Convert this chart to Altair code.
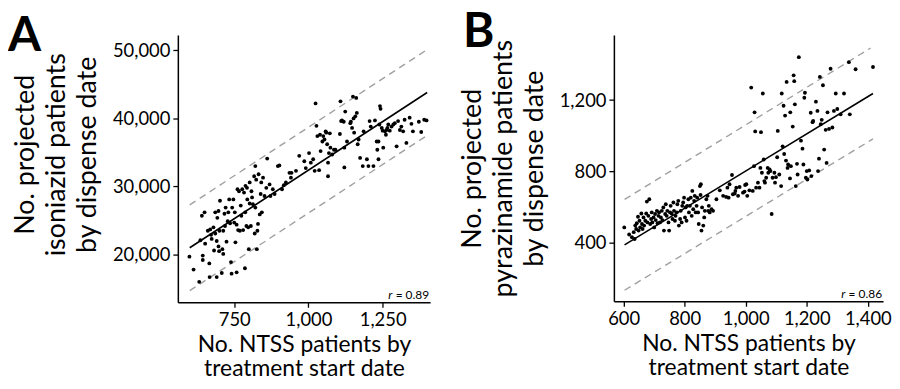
import altair as alt
import pandas as pd

# ---------------- Panel A: isoniazid ----------------
a_x = [599, 613, 632, 636, 641, 644, 644, 650, 652, 661, 666, 667, 669, 672, 674, 680, 682, 686, 686, 691,
       691, 693, 697, 697, 699, 700, 702, 708, 710, 713, 713, 717, 719, 721, 724, 728, 730, 733, 736, 739,
       741, 743, 747, 750, 752, 754, 758, 758, 761, 763, 766, 769, 772, 774, 777, 780, 783, 786, 787, 788,
       791, 793, 794, 797, 799, 802, 802, 806, 808, 810, 813, 817, 819, 821, 821, 824, 826, 828, 830, 832,
       836, 839, 841, 843, 847, 852, 858, 861, 869, 872, 880, 886, 897, 902, 911, 917, 924, 936, 941, 943,
       958, 969, 986, 991, 1002, 1008, 1016, 1021, 1024, 1027, 1030, 1036, 1039, 1041, 1047, 1050, 1054, 1058, 1060, 1063,
       1066, 1066, 1069, 1072, 1074, 1080, 1086, 1091, 1106, 1108, 1110, 1113, 1119, 1121, 1121, 1124, 1130, 1141, 1143, 1147,
       1150, 1152, 1154, 1158, 1161, 1163, 1166, 1169, 1174, 1183, 1186, 1197, 1202, 1206, 1210, 1219, 1224, 1230, 1232, 1236,
       1236, 1239, 1241, 1243, 1247, 1250, 1252, 1258, 1261, 1263, 1266, 1269, 1274, 1280, 1286, 1291, 1297, 1302, 1308, 1313,
       1319, 1324, 1330, 1341, 1347, 1352, 1372, 1390, 1380, 1398]
a_y = [19700, 17800, 16000, 22100, 25700, 19850, 19200, 26200, 21600, 23500, 18700, 16700, 23700, 22900, 22300, 24000, 20600, 23100, 26200, 16700,
       22000, 25400, 21200, 26400, 20500, 23500, 27900, 17300, 20800, 20100, 23500, 26000, 24200, 26900, 21900, 24900, 26200, 28100, 24600, 18900,
       17200, 26900, 28100, 24700, 26200, 21800, 17400, 24400, 29600, 23600, 29300, 23500, 27200, 25700, 29600, 23600, 29100, 18000, 26200, 30100,
       24200, 29800, 28100, 24000, 20800, 30600, 27500, 24200, 29300, 28400, 27400, 31500, 23100, 33000, 26900, 31000, 20800, 23500, 24500, 31800,
       25900, 28900, 30600, 26200, 31300, 28600, 29800, 34100, 30300, 28600, 29600, 28900, 33000, 33100, 29600, 30200, 30600, 32000, 31300, 32000,
       32300, 34500, 33700, 32700, 34900, 33500, 34000, 32300, 42200, 38900, 37400, 32400, 37600, 35200, 36600, 37400, 36900, 38100, 37900, 36200,
       33500, 31500, 34900, 37800, 35700, 34700, 35400, 35400, 37700, 42500, 39600, 39700, 39500, 32800, 35700, 41000, 36600, 39300, 39500, 38600,
       43200, 40000, 37900, 40300, 43000, 40800, 36200, 36900, 34200, 33000, 38100, 34000, 33000, 39600, 38800, 33000, 39700, 36600, 35400, 34000,
       36600, 39100, 41800, 41400, 38600, 38200, 35700, 38100, 37600, 38300, 38600, 39100, 38200, 38800, 39100, 39300, 35900, 39600, 38300, 38800,
       38100, 39800, 36400, 40100, 39200, 38100, 39500, 39800, 38000, 39700]
a_fit_x = [600, 1400]
a_fit_y = [21000, 43800]
a_upper_y = [27300, 50100]
a_lower_y = [14700, 37500]
a_r = "= 0.89"

# ---------------- Panel B: pyrazinamide ----------------
b_x = [602, 618, 627, 633, 636, 638, 641, 643, 647, 649, 652, 654, 658, 660, 662, 665, 667, 671, 674, 676,
       678, 681, 684, 687, 690, 692, 694, 698, 700, 703, 705, 709, 711, 714, 716, 719, 722, 725, 727, 730,
       732, 736, 738, 741, 743, 747, 749, 752, 754, 757, 760, 763, 765, 768, 770, 774, 776, 779, 781, 785,
       787, 790, 792, 795, 798, 801, 803, 806, 808, 812, 814, 817, 820, 823, 825, 828, 831, 833, 836, 839,
       841, 844, 846, 850, 852, 853, 855, 857, 861, 864, 866, 871, 875, 877, 879, 882, 888, 893, 904, 915,
       926, 936, 940, 944, 947, 955, 958, 964, 966, 969, 975, 980, 991, 996, 998, 1002, 1005, 1012, 1018, 1023,
       1027, 1029, 1031, 1034, 1040, 1045, 1048, 1050, 1053, 1056, 1059, 1061, 1063, 1067, 1072, 1074, 1078, 1081, 1085, 1088,
       1094, 1096, 1099, 1103, 1105, 1110, 1116, 1118, 1121, 1124, 1126, 1129, 1132, 1134, 1137, 1139, 1145, 1146, 1148, 1154,
       1157, 1159, 1161, 1164, 1168, 1170, 1174, 1181, 1186, 1189, 1192, 1194, 1197, 1200, 1202, 1208, 1213, 1215, 1219, 1221,
       1230, 1235, 1237, 1240, 1243, 1246, 1249, 1253, 1257, 1262, 1265, 1268, 1273, 1278, 1284, 1289, 1295, 1300, 1311, 1322,
       1338, 1341, 1360, 1417]
b_y = [485, 445, 430, 458, 420, 495, 476, 508, 545, 467, 522, 485, 563, 504, 476, 541, 495, 522, 563, 630,
       513, 550, 643, 504, 532, 569, 513, 541, 485, 560, 526, 578, 508, 550, 569, 513, 541, 578, 526, 597,
       467, 560, 615, 550, 578, 513, 467, 569, 606, 563, 532, 625, 578, 522, 550, 569, 615, 634, 495, 532,
       578, 513, 606, 625, 652, 541, 597, 522, 606, 643, 569, 606, 652, 550, 690, 587, 634, 662, 569, 606,
       652, 569, 504, 717, 667, 727, 467, 597, 495, 541, 578, 643, 662, 578, 606, 569, 587, 578, 643, 693,
       662, 656, 708, 652, 727, 779, 671, 675, 690, 708, 662, 712, 680, 686, 723, 727, 662, 693, 1270, 690,
       829, 1131, 1024, 708, 736, 708, 819, 1020, 792, 1237, 866, 745, 736, 764, 819, 792, 810, 801, 560, 764,
       792, 736, 767, 879, 1027, 782, 717, 1237, 940, 1168, 897, 1113, 860, 1302, 819, 838, 760, 1131, 829, 1051,
       1339, 1306, 1176, 717, 842, 782, 1441, 972, 927, 838, 1213, 1241, 764, 801, 754, 805, 1129, 773, 1076, 1083,
       1191, 1139, 801, 871, 1330, 1064, 1089, 1283, 922, 1033, 847, 1131, 1038, 1376, 1046, 1139, 1237, 1150, 1120, 1237,
       1413, 1120, 1373, 1386]
b_fit_x = [603, 1417]
b_fit_y = [387, 1237]
b_upper_x = [603, 1409]
b_upper_y = [642, 1492]
b_lower_x = [603, 1417]
b_lower_y = [132, 982]
b_r = "= 0.86"

X_TITLE = ["No. NTSS patients by", "treatment start date"]
FONT = "Lato"


def panel(px, py, fx, fy, ux, uy, lx, ly, xdom, ydom, xticks, yticks, ytitle, ytitle_y,
          letter, letter_x, letter_y, rtext, w, h):
    xs = alt.Scale(domain=xdom, nice=False, zero=False)
    ys = alt.Scale(domain=ydom, nice=False, zero=False)
    xax = alt.Axis(values=xticks, format=",.0f", title=X_TITLE)
    yax = alt.Axis(values=yticks, format=",.0f", title=ytitle, titleY=ytitle_y)

    pts = alt.Chart(pd.DataFrame({"x": px, "y": py})).mark_circle(
        size=15, color="black", opacity=1
    ).encode(x=alt.X("x:Q", scale=xs, axis=xax), y=alt.Y("y:Q", scale=ys, axis=yax))

    def line(lxv, lyv, color, dash, width):
        kw = dict(color=color, strokeWidth=width)
        if dash:
            kw["strokeDash"] = dash
        return alt.Chart(pd.DataFrame({"x": lxv, "y": lyv})).mark_line(**kw).encode(
            x=alt.X("x:Q", scale=xs), y=alt.Y("y:Q", scale=ys)
        )

    fit = line(fx, fy, "black", None, 1.6)
    up = line(ux, uy, "#a0a0a0", [7, 5], 1.4)
    lo = line(lx, ly, "#a0a0a0", [7, 5], 1.4)

    one = pd.DataFrame({"t": [letter]})
    let = alt.Chart(one).mark_text(
        align="left", baseline="alphabetic", fontSize=48, fontWeight="bold",
        font=FONT, color="black"
    ).encode(text="t:N", x=alt.value(letter_x), y=alt.value(letter_y))

    rv = alt.Chart(pd.DataFrame({"t": [rtext]})).mark_text(
        align="right", baseline="alphabetic", fontSize=12, font=FONT, color="black"
    ).encode(text="t:N", x=alt.value(w - 1), y=alt.value(h - 3))
    rr = alt.Chart(pd.DataFrame({"t": ["r"]})).mark_text(
        align="right", baseline="alphabetic", fontSize=12, font=FONT, color="black",
        fontStyle="italic"
    ).encode(text="t:N", x=alt.value(w - 1 - 37), y=alt.value(h - 3))

    return alt.layer(up, lo, fit, pts, let, rv, rr).properties(width=w, height=h)


pa = panel(a_x, a_y, a_fit_x, a_fit_y, a_fit_x, a_upper_y, a_fit_x, a_lower_y,
           [560, 1410], [13000, 52230], [750, 1000, 1250], [20000, 30000, 40000, 50000],
           ["No. projected", "isoniazid patients", "by dispense date"], 120,
           "A", -171, 16, a_r, 254, 269)

pb = panel(b_x, b_y, b_fit_x, b_fit_y, b_upper_x, b_upper_y, b_lower_x, b_lower_y,
           [568, 1450], [70, 1565], [600, 800, 1000, 1200, 1400], [400, 800, 1200],
           ["No. projected", "pyrazinamide patients", "by dispense date"], 134,
           "B", -152, 12, b_r, 271, 268)

chart = alt.hconcat(pa, pb, spacing=27).properties(padding=0).configure_view(
    stroke=None
).configure_axis(
    grid=False,
    domainColor="black",
    domainWidth=1.5,
    tickColor="black",
    tickWidth=1.3,
    tickSize=5,
    labelFont=FONT,
    labelFontSize=18.5,
    labelColor="black",
    labelPadding=3,
    titleFont=FONT,
    titleColor="black",
    titleFontWeight="normal",
).configure_axisX(
    titleFontSize=23, titleLineHeight=24, titlePadding=5
).configure_axisY(
    titleFontSize=27, titleLineHeight=31, titlePadding=11
)

chart.save("out.html", embed_options={"renderer": "svg", "actions": False})
